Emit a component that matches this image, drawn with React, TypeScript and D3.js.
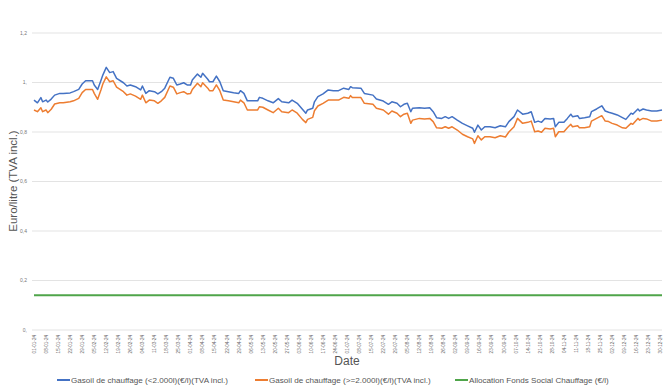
import React from 'react';
import * as d3 from 'd3';

// dates (2024, MM-DD) of the readings
const dates = [
	'01-01', '01-03', '01-05', '01-06', '01-08', '01-09', '01-11', '01-13', '01-16', '01-18',
	'01-22', '01-24', '01-27', '01-29', '01-31', '02-04', '02-05', '02-07', '02-09', '02-10',
	'02-12', '02-14', '02-16', '02-18', '02-22', '02-24', '02-26', '02-29', '03-03', '03-04',
	'03-06', '03-08', '03-11', '03-13', '03-15', '03-17', '03-20', '03-22', '03-24', '03-26',
	'03-28', '03-30', '04-01', '04-02', '04-05', '04-07', '04-08', '04-11', '04-12', '04-14',
	'04-16', '04-18', '04-20', '04-23', '04-26', '04-29', '04-30', '05-02', '05-04', '05-07',
	'05-10', '05-11', '05-13', '05-16', '05-19', '05-22', '05-24', '05-28', '05-30', '06-02',
	'06-05', '06-07', '06-08', '06-11', '06-12', '06-14', '06-17', '06-20', '06-23', '06-26',
	'06-29', '07-02', '07-03', '07-04', '07-09', '07-11', '07-16', '07-18', '07-22', '07-25',
	'07-27', '07-30', '08-01', '08-03', '08-05', '08-07', '08-08', '08-12', '08-15', '08-18',
	'08-20', '08-22', '08-25', '08-27', '08-29', '08-31', '09-03', '09-06', '09-09', '09-12',
	'09-13', '09-15', '09-17', '09-19', '09-22', '09-25', '09-28', '10-01', '10-03', '10-06',
	'10-08', '10-11', '10-14', '10-16', '10-18', '10-20', '10-22', '10-24', '10-27', '10-29',
	'10-30', '11-01', '11-04', '11-06', '11-08', '11-09', '11-12', '11-13', '11-16', '11-19',
	'11-20', '11-23', '11-26', '11-28', '11-30', '12-02', '12-05', '12-08', '12-10', '12-13',
	'12-14', '12-17', '12-18', '12-20', '12-22', '12-25', '12-28', '12-31'
];

// Gasoil de chauffage (<2.000l)
const gasoilSmall = [
	0.929, 0.918, 0.939, 0.922, 0.929, 0.921, 0.933, 0.949, 0.956, 0.956,
	0.958, 0.963, 0.972, 0.994, 1.007, 1.007, 0.990, 0.972, 1.010, 1.030,
	1.061, 1.040, 1.044, 1.017, 0.999, 0.986, 0.990, 0.983, 0.970, 0.986,
	0.956, 0.967, 0.963, 0.954, 0.963, 0.977, 1.021, 1.017, 0.990, 0.994,
	0.999, 0.990, 0.990, 1.010, 1.034, 1.021, 1.037, 1.013, 1.003, 1.003,
	1.026, 1.003, 0.967, 0.963, 0.959, 0.956, 0.967, 0.956, 0.926, 0.926,
	0.926, 0.940, 0.936, 0.926, 0.918, 0.935, 0.922, 0.918, 0.929, 0.916,
	0.892, 0.876, 0.889, 0.896, 0.922, 0.943, 0.954, 0.970, 0.967, 0.967,
	0.977, 0.972, 0.983, 0.979, 0.977, 0.956, 0.949, 0.933, 0.925, 0.912,
	0.922, 0.916, 0.902, 0.912, 0.916, 0.882, 0.896, 0.898, 0.896, 0.898,
	0.882, 0.858, 0.855, 0.862, 0.855, 0.862, 0.848, 0.835, 0.825, 0.815,
	0.799, 0.828, 0.808, 0.821, 0.821, 0.817, 0.825, 0.821, 0.842, 0.862,
	0.889, 0.872, 0.876, 0.882, 0.839, 0.844, 0.839, 0.855, 0.853, 0.855,
	0.821, 0.839, 0.839, 0.855, 0.872, 0.862, 0.866, 0.855, 0.858, 0.862,
	0.882, 0.893, 0.906, 0.885, 0.880, 0.876, 0.869, 0.858, 0.851, 0.876,
	0.872, 0.893, 0.885, 0.893, 0.889, 0.885, 0.885, 0.889
];

// Gasoil de chauffage (>=2.000l)
const gasoilLarge = [
	0.889, 0.882, 0.898, 0.882, 0.889, 0.878, 0.892, 0.913, 0.918, 0.918,
	0.922, 0.926, 0.936, 0.959, 0.972, 0.972, 0.956, 0.932, 0.972, 0.994,
	1.023, 1.003, 1.007, 0.981, 0.963, 0.949, 0.954, 0.945, 0.932, 0.949,
	0.918, 0.929, 0.926, 0.916, 0.926, 0.940, 0.986, 0.981, 0.954, 0.959,
	0.963, 0.954, 0.956, 0.972, 0.997, 0.983, 0.999, 0.977, 0.967, 0.967,
	0.990, 0.967, 0.929, 0.926, 0.922, 0.918, 0.929, 0.918, 0.889, 0.889,
	0.889, 0.902, 0.900, 0.889, 0.878, 0.896, 0.882, 0.878, 0.889, 0.876,
	0.851, 0.838, 0.851, 0.859, 0.886, 0.905, 0.916, 0.929, 0.929, 0.929,
	0.940, 0.936, 0.947, 0.939, 0.939, 0.916, 0.912, 0.896, 0.889, 0.872,
	0.885, 0.876, 0.862, 0.872, 0.876, 0.835, 0.848, 0.855, 0.853, 0.855,
	0.842, 0.817, 0.815, 0.821, 0.815, 0.821, 0.808, 0.791, 0.781, 0.772,
	0.754, 0.785, 0.768, 0.781, 0.781, 0.777, 0.785, 0.780, 0.800, 0.821,
	0.855, 0.835, 0.839, 0.844, 0.801, 0.804, 0.799, 0.815, 0.812, 0.815,
	0.781, 0.801, 0.801, 0.817, 0.831, 0.821, 0.825, 0.817, 0.817, 0.821,
	0.844, 0.855, 0.866, 0.844, 0.842, 0.835, 0.828, 0.817, 0.815, 0.835,
	0.831, 0.855, 0.848, 0.855, 0.853, 0.844, 0.844, 0.848
];

// Allocation Fonds Social Chauffage, flat all year
const allocationDates = ['01-01', '12-31'];
const allocation = [0.14, 0.14];

const yTicks = [0, 0.2, 0.4, 0.6, 0.8, 1, 1.2];
const yTickLabels = ['0,', '0,2', '0,4', '0,6', '0,8', '1,', '1,2'];

const seriesNames = [
	'Gasoil de chauffage (<2.000l)(€/l)(TVA incl.)',
	'Gasoil de chauffage (>=2.000l)(€/l)(TVA incl.)',
	'Allocation Fonds Social Chauffage (€/l)'
];
const colors = ['#4472C4', '#ED7D31', '#4FA54A'];

const parse = d3.timeParse('%Y-%m-%d');
const toDate = (s: string) => parse('2024-' + s) as Date;

export default function App() {
	const width = 667;
	const height = 389;
	const margin = { left: 34, right: 5, top: 33, bottom: 59 };
	const font = 'Liberation Sans, Arial, sans-serif';

	const x = d3.scaleTime()
		.domain([toDate('01-01'), toDate('12-31')])
		.range([margin.left, width - margin.right]);
	const y = d3.scaleLinear()
		.domain([0, 1.2])
		.range([height - margin.bottom, margin.top]);

	const line = d3.line<[Date, number]>()
		.x(d => x(d[0]))
		.y(d => y(d[1]));

	const smallPts: [Date, number][] = dates.map((d, i) => [toDate(d), gasoilSmall[i]]);
	const largePts: [Date, number][] = dates.map((d, i) => [toDate(d), gasoilLarge[i]]);
	const allocPts: [Date, number][] = allocationDates.map((d, i) => [toDate(d), allocation[i]]);

	const weekTicks = x.ticks(d3.timeMonday.every(1)!);
	const fmt = d3.timeFormat('%d-%m-%y');

	const legend = [
		{ x1: 57, name: seriesNames[0], color: colors[0] },
		{ x1: 255, name: seriesNames[1], color: colors[1] },
		{ x1: 455, name: seriesNames[2], color: colors[2] }
	];

	return (
		<svg width={width} height={height} style={{ position: 'absolute', left: 0, top: 0, background: '#fff' }}>
			{/* grid */}
			{yTicks.map((t, i) => (
				<g key={t}>
					<line x1={32} x2={662} y1={y(t)} y2={y(t)} stroke="#e3e3e3" strokeWidth={1} />
					<text x={27} y={y(t)} dy="0.35em" textAnchor="end" fontSize={5} fill="#777" fontFamily={font}>
						{yTickLabels[i]}
					</text>
				</g>
			))}

			{/* x tick labels */}
			{weekTicks.map(t => (
				<text
					key={+t}
					transform={`translate(${x(t) + 1.8},${y(0) + 5}) rotate(-90)`}
					textAnchor="end"
					fontSize={4.6}
					fill="#666"
					fontFamily={font}
				>
					{fmt(t)}
				</text>
			))}

			{/* series */}
			<path d={line(allocPts) || ''} fill="none" stroke={colors[2]} strokeWidth={2} />
			<path d={line(largePts) || ''} fill="none" stroke={colors[1]} strokeWidth={1.5} strokeLinejoin="round" />
			<path d={line(smallPts) || ''} fill="none" stroke={colors[0]} strokeWidth={1.5} strokeLinejoin="round" />

			{/* axis titles */}
			<text x={347} y={365} textAnchor="middle" fontSize={12} fill="#555" fontFamily={font}>Date</text>
			<text transform="translate(17,181) rotate(-90)" textAnchor="middle" fontSize={11.5} fill="#555" fontFamily={font}>
				Euro/litre (TVA incl.)
			</text>

			{/* legend */}
			{legend.map(l => (
				<g key={l.name}>
					<line x1={l.x1} x2={l.x1 + 13} y1={380} y2={380} stroke={l.color} strokeWidth={2} />
					<text x={l.x1 + 14} y={380} dy="0.35em" fontSize={8.1} fill="#555" fontFamily={font}>{l.name}</text>
				</g>
			))}
		</svg>
	);
}
